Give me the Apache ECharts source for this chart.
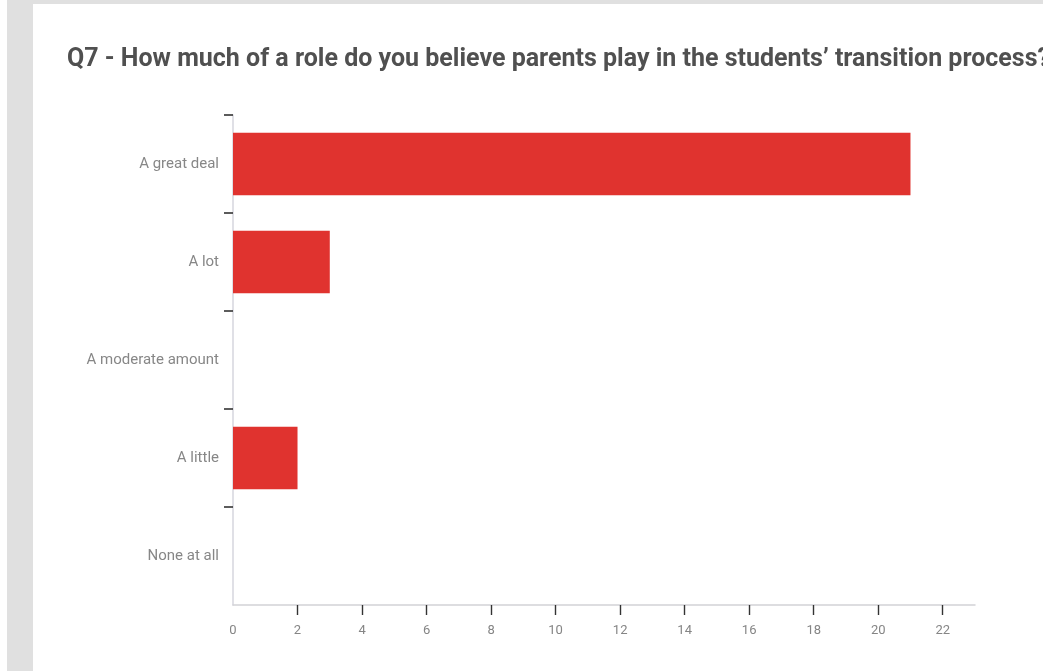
<!DOCTYPE html>
<html>
<head>
<meta charset="utf-8">
<script src="https://cdn.jsdelivr.net/npm/echarts@6/dist/echarts.min.js"></script>
<style>
  html, body { margin: 0; padding: 0; background: #ffffff; }
  #frame { position: absolute; left: 7px; top: 0; width: 1036px; height: 671px; background: #e0e0e0; }
  #chart { position: absolute; left: 26px; top: 4px; width: 1010px; height: 667px; background: #ffffff; }
</style>
</head>
<body>
<div id="frame"><div id="chart"></div></div>
<script>
// Survey responses, listed top to bottom as shown
const titleText = 'Q7 - How much of a role do you believe parents play in the students\u2019 transition process?';
const categories = ['A great deal', 'A lot', 'A moderate amount', 'A little', 'None at all'];
const counts = [21, 3, 0, 2, 0];
const xTickLabels = [0, 2, 4, 6, 8, 10, 12, 14, 16, 18, 20, 22];
const xMax = 23;

// category axis runs bottom-up, so reverse both lists
const axisCats = categories.slice().reverse();
const axisVals = counts.slice().reverse();

const chart = echarts.init(document.getElementById('chart'), null, { renderer: 'canvas' });
chart.setOption({
  animation: false,
  backgroundColor: '#ffffff',
  title: {
    text: titleText,
    left: 29,
    top: 38,
    textStyle: {
      fontFamily: 'Roboto, sans-serif',
      fontWeight: 'bold',
      fontSize: 25,
      color: '#505050'
    }
  },
  grid: { left: 200, right: 68, top: 111, bottom: 66, containLabel: false },
  xAxis: {
    type: 'value',
    min: 0,
    max: xMax,
    interval: 2,
    splitLine: { show: false },
    axisLine: { show: true, lineStyle: { color: '#d2d2d6', width: 1.5 } },
    axisTick: {
      show: true,
      length: 10,
      customValues: xTickLabels.filter(v => v > 0),
      lineStyle: { color: '#333333', width: 1.4 }
    },
    axisLabel: {
      customValues: xTickLabels,
      margin: 19,
      color: '#858585',
      fontFamily: 'Roboto, sans-serif',
      fontSize: 13
    }
  },
  yAxis: {
    type: 'category',
    data: axisCats,
    axisLine: { show: true, lineStyle: { color: '#d6d6de', width: 1.5 } },
    axisTick: {
      show: true,
      length: 9,
      interval: (i) => i > 0,
      lineStyle: { color: '#333333', width: 1.6 }
    },
    axisLabel: {
      interval: 0,
      margin: 14,
      color: '#878787',
      fontFamily: 'Roboto, sans-serif',
      fontSize: 15
    }
  },
  series: [{
    type: 'bar',
    data: axisVals,
    barCategoryGap: '36%',
    itemStyle: { color: '#e0332f' }
  }]
});
</script>
</body>
</html>
